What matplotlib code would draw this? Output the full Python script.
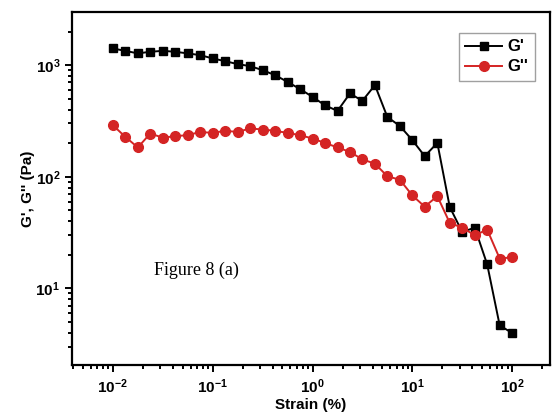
import matplotlib.pyplot as plt
import numpy as np

plt.rcParams["font.family"] = "Liberation Sans"
plt.rcParams["font.weight"] = "bold"
plt.rcParams["mathtext.fontset"] = "custom"
plt.rcParams["mathtext.rm"] = "Liberation Sans:bold"
plt.rcParams["mathtext.bf"] = "Liberation Sans:bold"
plt.rcParams["mathtext.default"] = "bf"

# strain (%) - 8 points per decade from 0.01 to 100
strain = [0.01, 0.0133, 0.0178, 0.0237, 0.0316, 0.0422, 0.0562, 0.075, 0.1,
          0.133, 0.178, 0.237, 0.316, 0.422, 0.562, 0.75, 1.0,
          1.33, 1.78, 2.37, 3.16, 4.22, 5.62, 7.5, 10.0,
          13.3, 17.8, 23.7, 31.6, 42.2, 56.2, 75.0, 100.0]

g_storage = [1410, 1343, 1274, 1317, 1343, 1317, 1274, 1229, 1148,
             1086, 1021, 980, 902, 813, 708, 610, 520,
             437, 389, 557, 479, 662, 343, 285, 213,
             153, 201, 53.6, 32, 35, 16.4, 4.66, 3.98]

g_loss = [290, 228, 183, 244, 224, 231, 236, 252, 247,
          258, 252, 271, 265, 258, 247, 236, 220,
          201, 183, 167, 143, 131, 101, 94, 68,
          54, 67, 38.6, 35, 29.9, 33.6, 18.5, 19]

fig = plt.figure(figsize=(5.54, 4.15), dpi=100)
ax = fig.add_axes([0.13, 0.12, 0.863, 0.851])

ax.plot(strain, g_storage, color="black", marker="s", markersize=6,
        linewidth=1.4, label="G'")
ax.plot(strain, g_loss, color="#d42424", marker="o", markersize=7,
        linewidth=1.4, label="G''")

ax.set_xscale("log")
ax.set_yscale("log")
ax.set_xlim(0.0039, 240)
ax.set_ylim(2.05, 2990)

for s in ax.spines.values():
    s.set_linewidth(1.6)
ax.tick_params(which="both", direction="out", top=False, right=False, width=1.4,
               labelsize=11)
ax.tick_params(which="major", length=5)
ax.tick_params(which="minor", length=3)

ax.set_xlabel("Strain (%)", fontsize=11, fontweight="bold", labelpad=2)
ax.set_ylabel("G', G'' (Pa)", fontsize=11, fontweight="bold", labelpad=0)

leg = ax.legend(loc="upper right", bbox_to_anchor=(0.985, 0.965), fontsize=12,
                fancybox=False, edgecolor="#888888", handlelength=2.2,
                borderpad=0.4, labelspacing=0.3, handletextpad=0.3)
leg.get_frame().set_linewidth(1.0)

ax.text(0.172, 0.255, "Figure 8 (a)", transform=ax.transAxes,
        fontsize=13, family="Liberation Serif", fontweight="normal")

fig.savefig("out.png", dpi=100)
